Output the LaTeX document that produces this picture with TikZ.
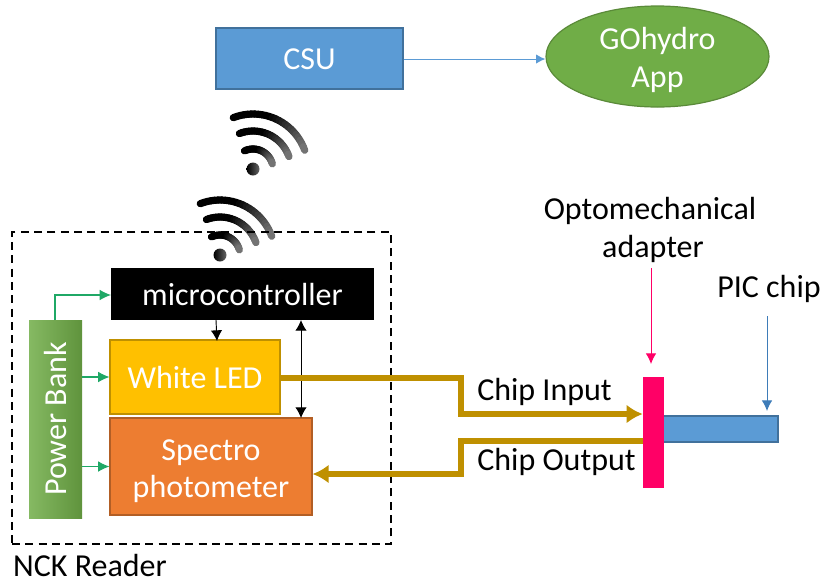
\documentclass[tikz,border=0pt]{standalone}
\usepackage{fontspec}
\setmainfont{Carlito}
\usetikzlibrary{arrows.meta,positioning,shapes.geometric,calc}
\definecolor{ublue}{HTML}{5B9BD5}
\definecolor{ubluedk}{HTML}{41719C}
\definecolor{uarrow}{HTML}{3E7CB8}
\definecolor{ugreen}{HTML}{70AD47}
\definecolor{ugold}{HTML}{BF9000}
\definecolor{uyellow}{HTML}{FFC000}
\definecolor{uorange}{HTML}{ED7D31}
\definecolor{upink}{HTML}{FF0066}
\definecolor{ugrn}{HTML}{1FA866}
\tikzset{
  px/.style={x=0.75pt,y=-0.75pt},
  lbl/.style={font=\fontsize{24pt}{28.5pt}\selectfont,text=black,inner sep=0pt,align=center},
  box/.style={font=\fontsize{24pt}{28pt}\selectfont,text=white,inner sep=0pt,align=center},
  bluebox/.style={box,fill=ublue,draw=ubluedk,line width=0.9pt},
  power/.style={arrows={-Latex[length=8.5pt,width=8pt]},ugrn,line width=0.8pt},
  sig/.style={arrows={-Latex[length=8pt,width=8.5pt]},black,line width=0.7pt},
  beam/.style={ugold,line width=3.8pt,arrows={-Latex[length=12pt,width=14pt]}},
  thin blue/.style={ublue,line width=0.75pt,arrows={-Latex[length=7pt,width=7pt]}},
}
\newcommand{\wifiarc}[4]{%
  \foreach \i in {0,...,23}{
    \pgfmathsetmacro{\aa}{#3-(#3-#4)*\i/24}
    \pgfmathsetmacro{\ab}{#3-(#3-#4)*(\i+1)/24}
    \pgfmathtruncatemacro{\g}{\i<10?0:(\i-10)*45/13}
    \pgfmathtruncatemacro{\k}{100-\g}
    \draw[line width=5.4pt,line cap=round,color=black!\k]
      ($(wc)+(\aa:#1pt*0.75)$) arc[start angle=\aa,end angle=\ab,radius=#1pt*0.75];
  }
}
\newcommand{\dn}[2]{\raisebox{-#1}[\height][\depth]{#2}}
\begin{document}
\begin{tikzpicture}[px]
\useasboundingbox (0,0) rectangle (821,583);
% wifi icons
\coordinate (wc) at (253,169);
\wifiarc{55}{0}{111}{20}
\wifiarc{38}{0}{111}{19}
\wifiarc{20}{0}{115}{15}
\shade[left color=black,right color=black!60] (wc) circle[radius=6.5pt*0.75];
\coordinate (wc) at (220,255);
\wifiarc{55}{0}{111}{20}
\wifiarc{38}{0}{111}{19}
\wifiarc{20}{0}{115}{15}
\shade[left color=black,right color=black!60] (wc) circle[radius=6.5pt*0.75];
% NCK frame
\node[draw=black,line width=1.3pt,minimum width=379*0.75pt,minimum height=312*0.75pt,inner sep=0pt,dash pattern=on 6pt off 4pt] (frame) at (201.5,388) {};
% top
\node[bluebox,minimum width=187*0.75pt,minimum height=61*0.75pt] (csu) at (309.5,58.5) {\dn{0.75pt}{CSU}};
\node[ellipse,fill=ugreen,draw=ugreen!80!black,line width=0.9pt,minimum width=223*0.75pt,minimum height=101*0.75pt,inner sep=0pt,text=white,align=center,font=\fontsize{24pt}{28.5pt}\selectfont] (app) at (657.5,56.5) {\dn{2.25pt}{GOhydro}\\\dn{2.25pt}{App}};
\draw[thin blue] (csu.east) ++(0,0.5) coordinate (c1) -- (c1 -| app.west);
% blocks
\node[box,fill=black,minimum width=263*0.75pt,minimum height=52*0.75pt] (mcu) at (242.5,294) {microcontroller};
\node[box,fill=uyellow,draw=ugold,line width=0.8pt,minimum width=170*0.75pt,minimum height=74*0.75pt] (led) at (195,377) {White LED};
\node[box,fill=uorange,draw=uorange!75!black,line width=0.8pt,minimum width=202*0.75pt,minimum height=97*0.75pt] (spec) at (211,466.5) {\dn{3.75pt}{Spectro}\\\dn{3.75pt}{photometer}};
\node[box,left color=ugreen!85!white,right color=ugreen!85!black,minimum width=53*0.75pt,minimum height=198*0.75pt] (pb) at (55.5,419) {\rotatebox{90}{Power Bank}};
% chip
\node[bluebox,minimum width=115*0.75pt,minimum height=26*0.75pt] (chip) at (720.5,429) {};
\node[fill=upink,minimum width=21*0.75pt,minimum height=111*0.75pt,inner sep=0pt] (adapter) at (653.5,432.5) {};
% labels
\node[lbl] (optolbl) at (650,230) {Optomechanical\\\hspace*{4.5pt}adapter};
\node[lbl] (piclbl) at (769,289) {PIC chip};
\node[lbl] (inlbl) at (544.5,392) {Chip Input};
\node[lbl] (outlbl) at (556.5,462) {Chip Output};
\node[lbl] (ncklbl) at (90,565) {NCK Reader};
% connectors
\coordinate (pbtop) at (55,320);
\coordinate (mcuin) at (111,295);
\draw[power] (pbtop) |- (mcuin);
\draw[power] (pb.east |- led.west) -- (led.west);
\draw[power] (pb.east |- spec.west) -- (spec.west);
\coordinate (m1) at (216,320);
\coordinate (l1) at (217,341);
\draw[sig] (m1) -- (l1);
\coordinate (m2) at (301,320);
\coordinate (s2) at (301,418);
\draw[black,line width=0.7pt,arrows={Latex[length=8pt,width=8.5pt]-Latex[length=8pt,width=8.5pt]}] (m2) -- (s2);
\coordinate (bend1) at (461,378);
\coordinate (bend2) at (461,414);
\coordinate (bend3) at (461,441);
\coordinate (bend4) at (461,474);
\draw[beam] (led.east |- bend1) -- (bend1) -- (bend2) -- (adapter.west |- bend2);
\draw[beam] (adapter.west |- bend3) -- (bend3) -- (bend4) -- (spec.east |- bend4);
\coordinate (o1) at (651,268);
\coordinate (o2) at (651,364);
\draw[upink,line width=0.75pt,arrows={-Latex[length=8pt,width=8pt]}] (o1) -- (o2);
\coordinate (p1) at (767,316);
\coordinate (p2) at (767,411);
\draw[uarrow,line width=0.75pt,arrows={-Latex[length=8pt,width=8pt]}] (p1) -- (p2);
\end{tikzpicture}
\end{document}
